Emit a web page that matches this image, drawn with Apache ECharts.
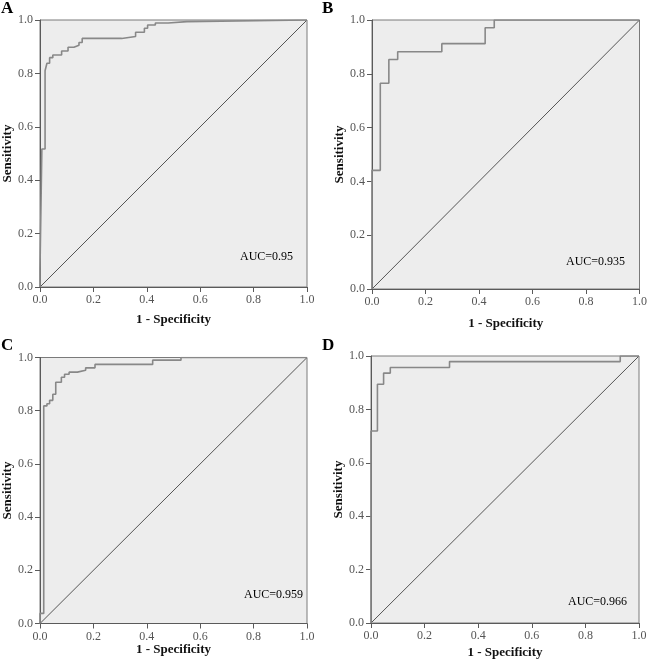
<!DOCTYPE html>
<html>
<head>
<meta charset="utf-8">
<script src="https://cdn.jsdelivr.net/npm/echarts@6/dist/echarts.min.js"></script>
<style>
html,body{margin:0;padding:0;background:#fff;}
#chart{width:650px;height:664px;}
</style>
</head>
<body>
<div id="chart"></div>
<script>
// ROC data (1 - specificity, sensitivity)
var fprA = [0, 0, 0.007, 0.019, 0.026, 0.036, 0.048, 0.081, 0.105, 0.127, 0.146, 0.158, 0.306, 0.358, 0.391, 0.403, 0.432, 0.48, 0.55, 1];
var tprA = [0, 0.067, 0.517, 0.810, 0.838, 0.859, 0.869, 0.884, 0.898, 0.905, 0.916, 0.931, 0.938, 0.954, 0.969, 0.981, 0.989, 0.994, 1, 1];
var fprB = [0, 0, 0.031, 0.063, 0.096, 0.261, 0.423, 0.457, 1];
var tprB = [0, 0.441, 0.765, 0.853, 0.882, 0.912, 0.971, 1, 1];
var fprC = [0, 0, 0.014, 0.026, 0.036, 0.048, 0.059, 0.080, 0.092, 0.109, 0.140, 0.171, 0.206, 0.422, 0.528, 1];
var tprC = [0, 0.038, 0.818, 0.826, 0.839, 0.862, 0.907, 0.926, 0.937, 0.945, 0.952, 0.961, 0.974, 0.990, 1, 1];
var fprD = [0, 0, 0.024, 0.047, 0.072, 0.293, 0.93, 1];
var tprD = [0, 0.719, 0.894, 0.936, 0.957, 0.979, 1, 1];
var diagonal = [[0, 0], [1, 1]];
var panelLabels = ['A', 'B', 'C', 'D'];
var aucLabels = ['AUC=0.95', 'AUC=0.935', 'AUC=0.959', 'AUC=0.966'];
var xTitle = '1 - Specificity';
var yTitle = 'Sensitivity';

var FONT = '"Liberation Serif", "Times New Roman", serif';
var grids = [
  {left: 40, top: 20, width: 267, height: 267, xGap: 26, yGap: 23},
  {left: 372, top: 20, width: 268, height: 269, xGap: 28, yGap: 23},
  {left: 40, top: 357.5, width: 267, height: 266, xGap: 20, yGap: 23},
  {left: 371, top: 356, width: 268, height: 267, xGap: 23, yGap: 23}
];
var curves = [[fprA, tprA], [fprB, tprB], [fprC, tprC], [fprD, tprD]];
var aucPos = [[240, 258], [566, 263], [244, 596], [568, 603]];
var letterPos = [[1, 8], [322, 8], [1, 345], [322, 345]];

function pairs(xs, ys) { return xs.map(function (x, i) { return [x, ys[i]]; }); }

var option = {
  animation: false,
  backgroundColor: '#ffffff',
  grid: [], xAxis: [], yAxis: [], series: [], graphic: []
};
grids.forEach(function (g, i) {
  option.grid.push({left: g.left, top: g.top, width: g.width, height: g.height,
    show: true, backgroundColor: '#ededed', borderColor: '#7a7a7a', borderWidth: 1});
  var axisCommon = {
    gridIndex: i, type: 'value', min: 0, max: 1, interval: 0.2,
    splitLine: {show: false},
    axisLine: {show: true, lineStyle: {color: '#5a5a5a', width: 1}},
    axisTick: {show: true, length: 5, lineStyle: {color: '#5a5a5a'}},
    axisLabel: {color: '#555', fontFamily: FONT, fontSize: 12, margin: 7,
      formatter: function (v) { return v.toFixed(1); }},
    nameLocation: 'middle',
    nameTextStyle: {fontFamily: FONT, fontSize: 13, fontWeight: 'bold', color: '#111'}
  };
  option.xAxis.push(Object.assign({}, axisCommon, {name: xTitle, nameGap: g.xGap}));
  option.yAxis.push(Object.assign({}, axisCommon, {name: yTitle, nameGap: g.yGap}));
  option.series.push({type: 'line', xAxisIndex: i, yAxisIndex: i, data: diagonal,
    symbol: 'none', lineStyle: {color: '#555', width: 1}, silent: true});
  option.series.push({type: 'line', xAxisIndex: i, yAxisIndex: i,
    data: pairs(curves[i][0], curves[i][1]), step: 'end',
    symbol: 'none', lineStyle: {color: '#888', width: 1.6}, silent: true});
  option.graphic.push({type: 'text', left: letterPos[i][0], top: letterPos[i][1] - 8,
    style: {text: panelLabels[i], font: 'bold 17px ' + FONT, fill: '#000'}});
  option.graphic.push({type: 'text', left: aucPos[i][0], top: aucPos[i][1] - 7,
    style: {text: aucLabels[i], font: '12px ' + FONT, fill: '#000'}});
});
var chart = echarts.init(document.getElementById('chart'), null, {renderer: 'canvas'});
chart.setOption(option);
</script>
</body>
</html>
